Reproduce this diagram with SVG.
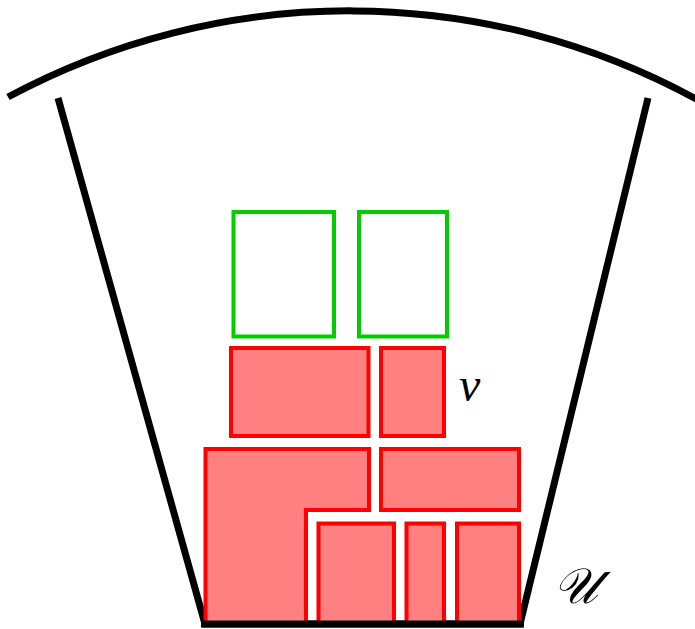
<svg xmlns="http://www.w3.org/2000/svg" width="695" height="629" viewBox="0 0 695 629">
<style>
.frame{fill:none;stroke:#000;stroke-width:7}
.red{fill:#ff8080;stroke:#ff0000;stroke-width:4}
.green{fill:#fff;stroke:#00cc00;stroke-width:4}
.lbl{font-family:"Liberation Serif","DejaVu Serif",serif;font-style:italic;fill:#000}
</style>
<g id="arc"><path class="frame" d="M 8 97 A 723 723 0 0 1 698 100"/></g>
<g id="bin"><path class="frame" d="M 58 98 L 205 624 L 520 624 L 648 98"/></g>
<g id="items">
<path id="L" class="red" d="M 205.5 449 L 369 449 L 369 510 L 306 510 L 306 624 L 205.5 624 Z"/>
<rect id="r1" class="red" x="381" y="449" width="138" height="61"/>
<rect id="r2" class="red" x="318.5" y="523.5" width="75.5" height="100"/>
<rect id="r3" class="red" x="406.5" y="523.5" width="37.5" height="100"/>
<rect id="r4" class="red" x="457" y="523.5" width="62" height="100"/>
<rect id="v1" class="red" x="231" y="348" width="137.5" height="88"/>
<rect id="v2" class="red" x="381" y="348" width="63" height="88"/>
<rect id="g1" class="green" x="233.5" y="212" width="100.5" height="124.5"/>
<rect id="g2" class="green" x="359" y="212" width="88" height="124.5"/>
</g>
<path class="frame" d="M 201 624 L 524 624"/>
<text class="lbl" x="459" y="401" font-size="48">v</text>
<text class="lbl" x="553" y="603" font-size="50" font-family="DejaVu Serif, serif">𝒰</text>
</svg>
